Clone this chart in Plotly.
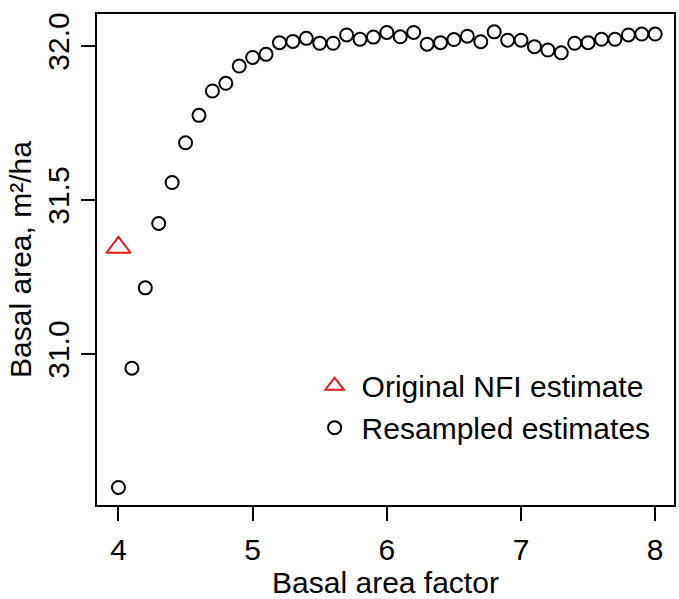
import plotly.graph_objects as go

baf = [4.0, 4.1, 4.2, 4.3, 4.4, 4.5, 4.6, 4.7, 4.8, 4.9,
       5.0, 5.1, 5.2, 5.3, 5.4, 5.5, 5.6, 5.7, 5.8, 5.9,
       6.0, 6.1, 6.2, 6.3, 6.4, 6.5, 6.6, 6.7, 6.8, 6.9,
       7.0, 7.1, 7.2, 7.3, 7.4, 7.5, 7.6, 7.7, 7.8, 7.9, 8.0]
resampled = [30.567, 30.954, 31.215, 31.424, 31.557, 31.686, 31.775, 31.854, 31.879, 31.935,
             31.963, 31.973, 32.011, 32.015, 32.025, 32.009, 32.009, 32.036, 32.022, 32.029,
             32.044, 32.030, 32.044, 32.006, 32.011, 32.021, 32.032, 32.014, 32.046, 32.019,
             32.019, 31.998, 31.987, 31.978, 32.009, 32.011, 32.022, 32.022, 32.036, 32.039, 32.039]
orig_x = [4.0]
orig_y = [31.346]

x_ticks = [4, 5, 6, 7, 8]
y_ticks = [31.0, 31.5, 32.0]
y_tick_labels = ["31.0", "31.5", "32.0"]

FONT = "Liberation Sans, Arial, sans-serif"
FS = 30

fig = go.Figure()
fig.add_trace(go.Scatter(
    x=orig_x, y=orig_y, mode="markers", name="Original NFI estimate",
    marker=dict(symbol="triangle-up-open", size=21, color="#e8161c",
                line=dict(width=2, color="#e8161c")),
))
fig.add_trace(go.Scatter(
    x=baf, y=resampled, mode="markers", name="Resampled estimates",
    marker=dict(symbol="circle-open", size=13, color="black",
                line=dict(width=2, color="black")),
))

fig.update_layout(
    width=679, height=599, autosize=False,
    margin=dict(l=97, r=3, t=14, b=94),
    paper_bgcolor="white", plot_bgcolor="white",
    font=dict(family=FONT, size=FS, color="black"),
    showlegend=True,
    legend=dict(x=0.365, y=0.296, xanchor="left", yanchor="top",
                bgcolor="rgba(0,0,0,0)", font=dict(size=FS, color="black"),
                itemsizing="trace", itemwidth=44, tracegroupgap=0),
)
fig.update_xaxes(
    range=[3.84, 8.14], showgrid=False, zeroline=False,
    showline=True, mirror=True, linecolor="black", linewidth=2,
    ticks="outside", ticklen=14, tickwidth=2, tickcolor="black",
    tickvals=x_ticks, tickfont=dict(size=FS), ticklabelstandoff=3,
    title=dict(text="Basal area factor", font=dict(size=FS), standoff=6),
)
fig.update_yaxes(
    range=[30.51, 32.104], showgrid=False, zeroline=False,
    showline=True, mirror=True, linecolor="black", linewidth=2,
    ticks="outside", ticklen=14, tickwidth=2, tickcolor="black",
    tickvals=y_ticks, ticktext=y_tick_labels, tickangle=-90,
    tickfont=dict(size=FS),
    title=dict(text="Basal area, m²/ha", font=dict(size=FS), standoff=2),
)

fig.write_html("out.html")
